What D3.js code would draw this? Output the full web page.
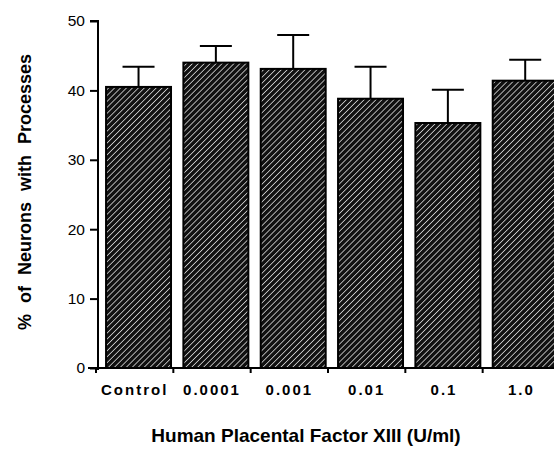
<!DOCTYPE html>
<html>
<head>
<meta charset="utf-8">
<script src="https://cdn.jsdelivr.net/npm/d3@7"></script>
<style>
  body { margin: 0; background: #fff; }
  svg { display: block; font-family: "Liberation Sans", Arial, Helvetica, sans-serif; }
</style>
</head>
<body>
<svg width="554" height="450"></svg>
<script>
// chart data
var categories = ["Control", "0.0001", "0.001", "0.01", "0.1", "1.0"];
var means = [40.5, 44.0, 43.1, 38.8, 35.3, 41.4];
var errors = [2.9, 2.4, 4.9, 4.6, 4.8, 3.0];
var yTicks = [0, 10, 20, 30, 40, 50];

var svg = d3.select("svg");

// hatch pattern for the bars
var defs = svg.append("defs");
var pat = defs.append("pattern")
  .attr("id", "hatch")
  .attr("patternUnits", "userSpaceOnUse")
  .attr("width", 4.2)
  .attr("height", 4.2)
  .attr("patternTransform", "rotate(45)");
pat.append("rect").attr("width", 4.2).attr("height", 4.2).attr("fill", "#111");
pat.append("line")
  .attr("x1", 0).attr("y1", 0).attr("x2", 0).attr("y2", 4.2)
  .attr("stroke", "#fff").attr("stroke-width", 1.3);

var x = d3.scaleBand().domain(categories).range([96, 560]);
var y = d3.scaleLinear().domain([0, 50]).range([368, 21]);
var bw = x.bandwidth();

// bars
svg.selectAll(".bar")
  .data(categories)
  .enter().append("rect")
  .attr("class", "bar")
  .attr("x", function(d) { return x(d) + bw * 0.13; })
  .attr("width", bw * 0.84)
  .attr("y", function(d, i) { return y(means[i]); })
  .attr("height", function(d, i) { return y(0) - y(means[i]); })
  .attr("fill", "url(#hatch)")
  .attr("stroke", "#000")
  .attr("stroke-width", 2);

// error bars (upper only)
var eb = svg.selectAll(".err")
  .data(categories)
  .enter().append("g")
  .attr("class", "err")
  .attr("stroke", "#000")
  .attr("stroke-width", 2);
eb.append("line")
  .attr("x1", function(d) { return x(d) + bw * 0.55; })
  .attr("x2", function(d) { return x(d) + bw * 0.55; })
  .attr("y1", function(d, i) { return y(means[i]); })
  .attr("y2", function(d, i) { return y(means[i] + errors[i]); });
eb.append("line")
  .attr("x1", function(d) { return x(d) + bw * 0.55 - 16; })
  .attr("x2", function(d) { return x(d) + bw * 0.55 + 16; })
  .attr("y1", function(d, i) { return y(means[i] + errors[i]); })
  .attr("y2", function(d, i) { return y(means[i] + errors[i]); });

// y axis
var yAxis = svg.append("g")
  .attr("transform", "translate(98,0)")
  .call(d3.axisLeft(y).tickValues(yTicks).tickSize(8).tickPadding(5));
yAxis.select(".domain").attr("stroke-width", 2).attr("d", "M-8,21H0V370");
yAxis.selectAll(".tick line").attr("stroke-width", 2);
yAxis.selectAll(".tick text").attr("font-size", 15.5).attr("fill", "#000");

// x axis
var xAxis = svg.append("g")
  .attr("transform", "translate(0,368)")
  .call(d3.axisBottom(x).tickSize(0).tickPadding(16));
xAxis.select(".domain").attr("stroke-width", 2).attr("d", "M88,0H554");
xAxis.selectAll(".tick text")
  .attr("font-size", 15)
  .attr("font-weight", "bold")
  .attr("letter-spacing", "2px")
  .attr("fill", "#000");
// boundary ticks between categories
xAxis.selectAll(".sep")
  .data(categories)
  .enter().append("line")
  .attr("class", "sep")
  .attr("x1", function(d) { return x(d); })
  .attr("x2", function(d) { return x(d); })
  .attr("y1", 0).attr("y2", 5)
  .attr("stroke", "#000").attr("stroke-width", 2);

// axis titles
svg.append("text")
  .attr("x", 306).attr("y", 442)
  .attr("text-anchor", "middle")
  .attr("font-size", 19)
  .attr("font-weight", "bold")
  .text("Human Placental Factor XIII (U/ml)");

svg.append("text")
  .attr("transform", "translate(31,192) rotate(-90)")
  .attr("text-anchor", "middle")
  .attr("font-size", 18)
  .attr("font-weight", "bold")
  .attr("word-spacing", "6px")
  .text("% of Neurons with Processes");
</script>
</body>
</html>
